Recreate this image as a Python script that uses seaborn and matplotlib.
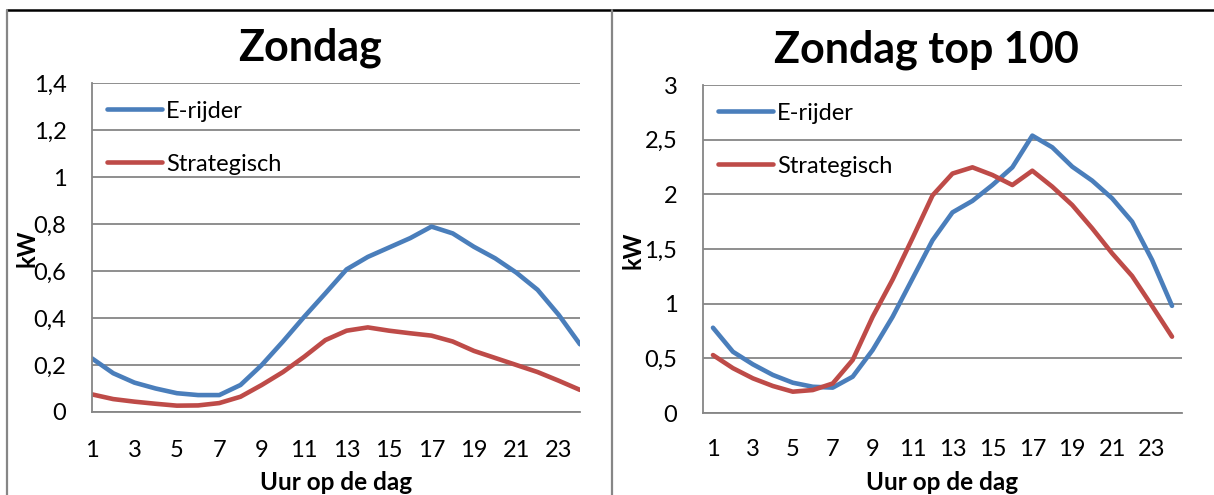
import matplotlib
matplotlib.use("Agg")
import matplotlib.pyplot as plt
import seaborn as sns
import pandas as pd
from matplotlib.lines import Line2D
from matplotlib.ticker import FuncFormatter

# hours of the day
uren = list(range(1, 25))

# Zondag (all)
zondag_erijder = [0.228, 0.165, 0.125, 0.100, 0.080, 0.072, 0.072, 0.115, 0.200, 0.300,
                  0.405, 0.505, 0.607, 0.660, 0.700, 0.740, 0.789, 0.760, 0.703, 0.654,
                  0.593, 0.520, 0.413, 0.288]
zondag_strategisch = [0.075, 0.055, 0.044, 0.035, 0.027, 0.028, 0.038, 0.065, 0.115, 0.170,
                      0.235, 0.306, 0.346, 0.360, 0.346, 0.335, 0.325, 0.300, 0.260, 0.230,
                      0.200, 0.170, 0.133, 0.094]

# Zondag top 100
top_erijder = [0.78, 0.56, 0.445, 0.348, 0.277, 0.24, 0.232, 0.332, 0.576, 0.88,
               1.23, 1.58, 1.835, 1.94, 2.085, 2.247, 2.537, 2.43, 2.253, 2.125,
               1.963, 1.75, 1.40, 0.98]
top_strategisch = [0.53, 0.41, 0.317, 0.247, 0.195, 0.21, 0.27, 0.485, 0.88, 1.22,
                   1.60, 1.99, 2.19, 2.247, 2.177, 2.085, 2.216, 2.07, 1.902, 1.689,
                   1.46, 1.253, 0.979, 0.698]

reeksen = ["E-rijder", "Strategisch"]
kleuren = {"E-rijder": "#4A7EBB", "Strategisch": "#BE4B48"}
grijs = "#868686"

sns.set_style("white")
plt.rcParams["font.family"] = ["Lato", "DejaVu Sans"]
plt.rcParams["text.color"] = "black"
plt.rcParams["axes.labelcolor"] = "black"

W, H = 1214, 495
fig = plt.figure(figsize=(W / 100, H / 100), dpi=100)


def px_axes(x0, x1, y0, y1):
    return fig.add_axes([x0 / W, (H - y1) / H, (x1 - x0) / W, (y1 - y0) / H])


def komma(v, pos):
    s = ("%.1f" % v).rstrip("0").rstrip(".")
    return s.replace(".", ",")


def teken(ax, erijder, strategisch, ymax, ystep, tussen):
    df = pd.DataFrame({"uur": uren * 2,
                       "kW": erijder + strategisch,
                       "reeks": ["E-rijder"] * 24 + ["Strategisch"] * 24})
    sns.lineplot(data=df, x="uur", y="kW", hue="reeks", hue_order=reeksen,
                 palette=kleuren, linewidth=3.3, ax=ax, legend=True)
    for ln in ax.lines:
        ln.set_solid_capstyle("round")
        ln.set_solid_joinstyle("round")
    ax.set_ylim(0, ymax)
    yt = [i * ystep for i in range(int(round(ymax / ystep)) + 1)]
    ax.set_yticks(yt)
    ax.yaxis.set_major_formatter(FuncFormatter(komma))
    ax.grid(axis="y", color=grijs, linewidth=1.3)
    ax.set_axisbelow(True)
    for s in ["top", "right"]:
        ax.spines[s].set_visible(False)
    for s in ["left", "bottom"]:
        ax.spines[s].set_color(grijs)
        ax.spines[s].set_linewidth(1.3)
    ax.tick_params(axis="y", length=6.5, width=1.0, color=grijs, pad=12,
                   labelsize=17, labelcolor="black")
    if tussen:
        ax.set_xlim(0.5, 24.5)
        ax.set_xticks([u + 0.5 for u in range(0, 25)], minor=True)
        ax.set_xticks(uren[::2])
        ax.tick_params(axis="x", which="minor", length=6.5, width=1.0, color=grijs)
        ax.tick_params(axis="x", which="major", length=0, pad=19,
                       labelsize=17, labelcolor="black")
    else:
        ax.set_xlim(1, 24)
        ax.set_xticks(uren)
        ax.set_xticklabels([str(u) if u % 2 == 1 else "" for u in uren])
        ax.tick_params(axis="x", length=6.5, width=1.0, color=grijs, pad=14,
                       labelsize=17, labelcolor="black")
    ax.set_ylabel("")
    ax.set_xlabel("Uur op de dag", fontsize=17.5, fontweight="bold", va="center",
                  color="black")
    ax.xaxis.set_label_coords(0.5, -(482 - 412) / 329)
    leg = ax.legend(loc="upper left", bbox_to_anchor=(0.011, 0.975), frameon=False,
                    fontsize=17, handlelength=2.35, handletextpad=0.17,
                    labelspacing=1.35, borderaxespad=0)
    for t in leg.get_texts():
        t.set_color("black")
    for h in leg.get_lines():
        h.set_linewidth(3.3)
        h.set_solid_capstyle("round")


ax1 = px_axes(92, 580, 83, 412)
teken(ax1, zondag_erijder, zondag_strategisch, 1.4, 0.2, tussen=False)
ax2 = px_axes(703, 1182, 85, 413)
teken(ax2, top_erijder, top_strategisch, 3.0, 0.5, tussen=True)

fig.text(310 / W, 1 - 48 / H, "Zondag", fontsize=31, fontweight="bold",
         ha="center", va="center", color="black")
fig.text(926 / W, 1 - 50 / H, "Zondag top 100", fontsize=31, fontweight="bold",
         ha="center", va="center", color="black")
fig.text(27 / W, 1 - 248 / H, "kW", fontsize=17, fontweight="bold",
         rotation=90, ha="center", va="center", color="black")
fig.text(633 / W, 1 - 250 / H, "kW", fontsize=17, fontweight="bold",
         rotation=90, ha="center", va="center", color="black")

# frame lines of the original document
fig.add_artist(Line2D([7 / W, 1], [1 - 10 / H] * 2, color="black", linewidth=1.8))
fig.add_artist(Line2D([7 / W] * 2, [0, 1 - 10 / H], color=grijs, linewidth=1.6))
fig.add_artist(Line2D([612 / W] * 2, [0, 1 - 10 / H], color=grijs, linewidth=1.6))

fig.savefig("out.png", dpi=100)
